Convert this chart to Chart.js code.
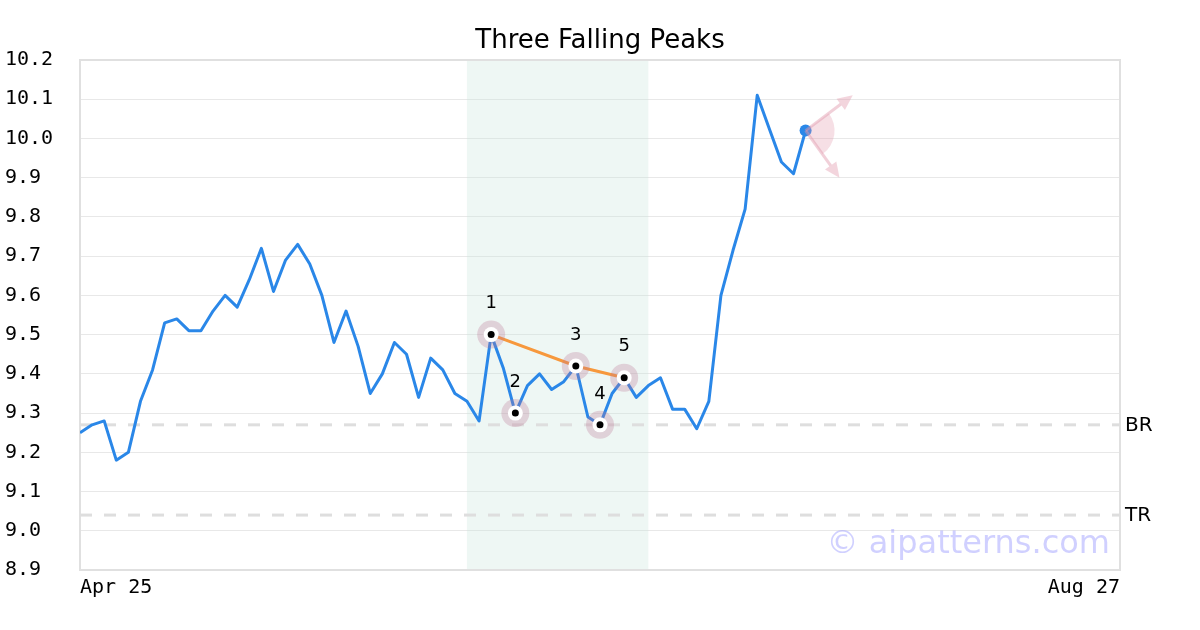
<!doctype html>
<html lang="en">
<head>
    <meta charset="utf-8">
    <script src="https://cdn.jsdelivr.net/npm/chart.js"></script>
    <style>
        body { margin: 0; background: #fff; }
    </style>
</head>
<body>
    <canvas id="myChart" width="1200" height="630"></canvas>
    <script>
        const chartTitle = 'Three Falling Peaks';

        // x tick labels (first and last session)
        const xLabels = ['Apr 25', 'Aug 27'];
        const xTickIdx = [0, 86];

        // closing prices, one per session
        const prices = [
            9.25, 9.27, 9.28, 9.18, 9.20, 9.33, 9.41, 9.53, 9.54, 9.51,
            9.51, 9.56, 9.60, 9.57, 9.64, 9.72, 9.61, 9.69, 9.73, 9.68,
            9.60, 9.48, 9.56, 9.47, 9.35, 9.40, 9.48, 9.45, 9.34, 9.44,
            9.41, 9.35, 9.33, 9.28, 9.50, 9.415, 9.30, 9.37, 9.40, 9.36,
            9.38, 9.42, 9.29, 9.27, 9.35, 9.39, 9.34, 9.37, 9.39, 9.31,
            9.31, 9.26, 9.33, 9.60, 9.715, 9.82, 10.11, 10.025, 9.94, 9.91,
            10.02
        ];

        // pattern points
        const pivotIdx = [34, 36, 41, 43, 45];
        const pivotNames = ['1', '2', '3', '4', '5'];
        const peakIdx = [34, 41, 45];

        // pattern zone (session index)
        const zoneIdx = [32, 47];

        // horizontal levels
        const levels = [9.27, 9.04];
        const levelNames = ['BR', 'TR'];

        // projection arrows from the last close
        const arrowTips = [[63.9, 10.11], [62.8, 9.90]];

        const blue = 'rgb(42,135,232)';
        const pivotPts = pivotIdx.map(i => ({ x: i, y: prices[i] }));

        const levelSets = levels.map(v => ({
            data: xTickIdx.map(x => ({ x: x, y: v })),
            borderColor: '#dedede',
            borderWidth: 3,
            borderDash: [12, 12],
            pointRadius: 0,
            order: 10
        }));

        const extras = {
            id: 'extras',
            beforeDatasetsDraw(chart) {
                const { ctx, chartArea: a, scales: { x, y } } = chart;
                ctx.save();
                const x0 = x.getPixelForValue(zoneIdx[0]);
                const x1 = x.getPixelForValue(zoneIdx[1]);
                ctx.fillStyle = 'rgba(200,230,220,0.3)';
                ctx.fillRect(x0, a.top, x1 - x0, a.bottom - a.top);
                ctx.strokeStyle = '#e0e0e0';
                ctx.lineWidth = 2;
                ctx.strokeRect(a.left, a.top, a.right - a.left, a.bottom - a.top);
                ctx.restore();
            },
            afterDatasetsDraw(chart) {
                const { ctx, chartArea: a, scales: { x, y } } = chart;
                ctx.save();

                // title, centred on the canvas
                ctx.fillStyle = '#000';
                ctx.font = '26px "DejaVu Sans"';
                ctx.textAlign = 'center';
                ctx.textBaseline = 'middle';
                ctx.fillText(chartTitle, chart.width / 2, 41);

                // pivot numbers
                ctx.font = '18px "DejaVu Sans"';
                pivotIdx.forEach((i, k) => {
                    ctx.fillText(pivotNames[k], x.getPixelForValue(i), y.getPixelForValue(prices[i]) - 31);
                });

                // level names
                ctx.font = '20px "DejaVu Sans"';
                ctx.textAlign = 'left';
                levels.forEach((v, k) => {
                    ctx.fillText(levelNames[k], a.right + 5, y.getPixelForValue(v) + 1);
                });

                // arrows
                const last = prices.length - 1;
                const ox = x.getPixelForValue(last);
                const oy = y.getPixelForValue(prices[last]);
                const angles = arrowTips.map(t => Math.atan2(y.getPixelForValue(t[1]) - oy, x.getPixelForValue(t[0]) - ox));
                ctx.fillStyle = 'rgba(225,150,170,0.3)';
                ctx.beginPath();
                ctx.moveTo(ox, oy);
                ctx.arc(ox, oy, 29, angles[0], angles[1]);
                ctx.closePath();
                ctx.fill();
                ctx.strokeStyle = 'rgba(225,150,170,0.45)';
                ctx.fillStyle = 'rgba(225,150,170,0.4)';
                ctx.lineWidth = 3;
                arrowTips.forEach((t, k) => {
                    const tx = x.getPixelForValue(t[0]);
                    const ty = y.getPixelForValue(t[1]);
                    const ang = angles[k];
                    const hl = 15;
                    const bx = tx - Math.cos(ang) * hl;
                    const by = ty - Math.sin(ang) * hl;
                    ctx.beginPath();
                    ctx.moveTo(ox, oy);
                    ctx.lineTo(bx, by);
                    ctx.stroke();
                    ctx.beginPath();
                    ctx.moveTo(tx, ty);
                    ctx.lineTo(bx + Math.sin(ang) * 7, by - Math.cos(ang) * 7);
                    ctx.lineTo(bx - Math.sin(ang) * 7, by + Math.cos(ang) * 7);
                    ctx.closePath();
                    ctx.fill();
                });

                // watermark
                ctx.fillStyle = 'rgba(150,150,255,0.45)';
                ctx.font = '32px "DejaVu Sans"';
                ctx.textAlign = 'right';
                ctx.textBaseline = 'alphabetic';
                ctx.fillText('\u00a9 aipatterns.com', a.right - 10, a.bottom - 17);
                ctx.restore();
            }
        };

        const config = {
            type: 'line',
            data: {
                datasets: [
                    {
                        data: pivotPts,
                        showLine: false,
                        pointRadius: 3.5,
                        pointBackgroundColor: '#000',
                        pointBorderWidth: 0,
                        order: 1
                    },
                    {
                        data: pivotPts,
                        showLine: false,
                        pointRadius: 7.5,
                        pointBackgroundColor: '#fff',
                        pointBorderWidth: 0,
                        order: 2
                    },
                    {
                        data: pivotPts,
                        showLine: false,
                        pointRadius: 14,
                        pointBackgroundColor: 'rgba(190,120,150,0.3)',
                        pointBorderWidth: 0,
                        order: 3
                    },
                    {
                        data: peakIdx.map(i => ({ x: i, y: prices[i] })),
                        borderColor: 'rgb(247,152,60)',
                        borderWidth: 3,
                        pointRadius: 0,
                        order: 4
                    },
                    {
                        data: prices.map((v, i) => ({ x: i, y: v })),
                        borderColor: blue,
                        backgroundColor: blue,
                        borderWidth: 3,
                        borderJoinStyle: 'round',
                        pointRadius: ctx => ctx.dataIndex === prices.length - 1 ? 6 : 0,
                        pointBorderWidth: 0,
                        order: 5
                    },
                    ...levelSets
                ]
            },
            options: {
                responsive: false,
                animation: false,
                layout: { padding: { left: 5, right: 80, top: 60, bottom: 0 } },
                plugins: {
                    legend: { display: false },
                    tooltip: { enabled: false },
                    title: { display: false }
                },
                scales: {
                    x: {
                        type: 'linear',
                        min: xTickIdx[0],
                        max: xTickIdx[1],
                        grid: { display: false, drawTicks: false },
                        border: { display: false },
                        afterBuildTicks: axis => { axis.ticks = xTickIdx.map(v => ({ value: v })); },
                        afterFit: scale => { scale.height = 60; },
                        ticks: {
                            align: 'inner',
                            maxRotation: 0,
                            autoSkip: false,
                            padding: 6,
                            color: '#000',
                            font: { family: 'DejaVu Sans Mono', size: 20 },
                            callback: (v, i) => xLabels[i]
                        }
                    },
                    y: {
                        min: 8.9,
                        max: 10.2,
                        grid: { color: '#e8e8e8', lineWidth: 1, drawTicks: false },
                        border: { display: false },
                        afterFit: scale => { scale.width = 75; },
                        ticks: {
                            stepSize: 0.1,
                            crossAlign: 'far',
                            padding: 8,
                            color: '#000',
                            font: { family: 'DejaVu Sans Mono', size: 20 },
                            callback: v => v.toFixed(1)
                        }
                    }
                }
            },
            plugins: [extras]
        };

        const myChart = new Chart(document.getElementById('myChart'), config);
    </script>
</body>
</html>
